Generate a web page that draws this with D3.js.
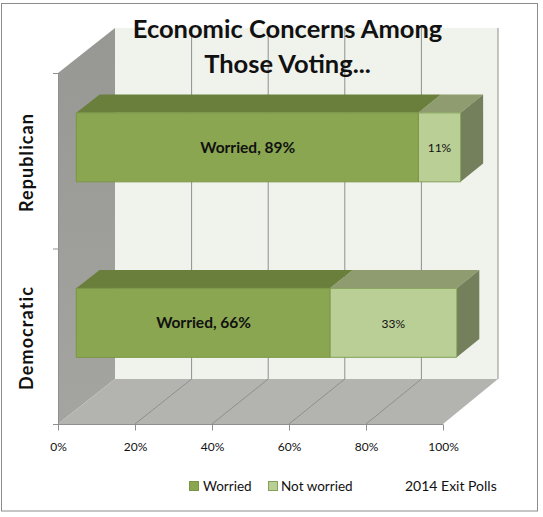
<!DOCTYPE html>
<html><head><meta charset="utf-8">
<script src="https://cdn.jsdelivr.net/npm/d3@7"></script>
<style>html,body{margin:0;padding:0;background:#fff}svg{display:block}text{font-family:Lato,"Open Sans",sans-serif;fill:#111}</style>
</head><body><svg id="c" width="543" height="517"></svg>
<script>
const categories = ["Republican","Democratic"];
const worried = [89,66];
const notWorried = [11,33];
const xTicks = [0,20,40,60,80,100];
const titleLines = ["Economic Concerns Among","Those Voting..."];
const seriesNames = ["Worried","Not worried"];
const sourceNote = "2014 Exit Polls";

const svg = d3.select("#c");
const x = d3.scaleLinear().domain([0,100]).range([58,443]);
const xBack = d3.scaleLinear().domain([0,100]).range([115,498]);
const y = d3.scaleBand().domain(categories).range([73,424]);
const depthY = d3.scaleLinear().domain([0,1]).range([0,-45]);
const P = (v,py,d)=>[x(v)*(1-d)+xBack(v)*d, py+depthY(d)];
const poly = (pts,fill,stroke)=>svg.append("polygon").attr("points",pts.map(p=>p.join(",")).join(" "))
  .attr("fill",fill).attr("stroke",stroke||"none").attr("stroke-width",stroke?1:0);
const top0=y.range()[0], bot=y.range()[1];

// frame
svg.append("rect").attr("x",1.5).attr("y",3.5).attr("width",536).attr("height",507.5)
  .attr("fill","#fff").attr("stroke","#8c8c8c").attr("stroke-width",1);

// walls
const defs=svg.append("defs");
const lg=defs.append("linearGradient").attr("id","wall").attr("x1",0).attr("x2",0).attr("y1",0).attr("y2",1);
lg.append("stop").attr("offset",0).attr("stop-color","#979894");
lg.append("stop").attr("offset",1).attr("stop-color","#a4a5a1");
poly([P(0,top0,0),P(0,top0,1),P(0,bot,1),P(0,bot,0)],"url(#wall)");
poly([P(0,top0,1),P(100,top0,1),P(100,bot,1),P(0,bot,1)],"#f0f3ec");
poly([P(0,bot,0),P(100,bot,0),P(100,bot,1),P(0,bot,1)],"#b3b4b0");

// gridlines
xTicks.forEach(t=>{
  const l=(a,b)=>svg.append("line").attr("x1",a[0]).attr("y1",a[1]).attr("x2",b[0]).attr("y2",b[1]).attr("stroke","#8f8f8f").attr("stroke-width",1);
  if(t>0) l(P(t,top0,1),P(t,bot,1));
  if(t>0&&t<100) l(P(t,bot,1),P(t,bot,0));
});
svg.append("line").attr("x1",x(0)).attr("x2",x(100)).attr("y1",bot+.5).attr("y2",bot+.5).attr("stroke","#8f8f8f");
svg.append("line").attr("x1",x(0)+.5).attr("x2",x(0)+.5).attr("y1",top0).attr("y2",bot).attr("stroke","#8f8f8f");

// axes
const ax=svg.append("g").attr("transform",`translate(0,${bot+.5})`)
  .call(d3.axisBottom(x).tickValues(xTicks).tickFormat(d=>d+"%").tickSize(6).tickPadding(12));
ax.select(".domain").remove();
ax.selectAll("line").attr("stroke","#8f8f8f");
ax.selectAll("text").attr("font-size",12).attr("font-family","Lato").attr("fill","#111");
[y(categories[0]),y(categories[1]),bot].forEach(v=>svg.append("line").attr("x1",x(0)-5).attr("x2",x(0)).attr("y1",v+.5).attr("y2",v+.5).attr("stroke","#8f8f8f"));
categories.forEach(c=>{
  const cy=y(c)+y.bandwidth()/2+1.75;
  svg.append("text").attr("transform",`translate(33,${cy}) rotate(-90)`).attr("text-anchor","middle")
    .attr("font-size",18).attr("letter-spacing",1.1).attr("font-weight",700).text(c);
});

// bars
const d0=0.32, d1=0.73, barH=y.bandwidth()*0.393;
const box=(a,b,c,cols,withSide)=>{
  const t=y(c)+y.bandwidth()/2-barH/2+1, m=t+barH;
  poly([P(a,t,d0),P(a,t,d1),P(b,t,d1),P(b,t,d0)],cols.top);
  if(withSide) poly([P(b,t,d0),P(b,t,d1),P(b,m,d1),P(b,m,d0)],cols.side);
  poly([P(a,t,d0),P(b,t,d0),P(b,m,d0),P(a,m,d0)],cols.front,cols.edge);
  return [(P(a,t,d0)[0]+P(b,t,d0)[0])/2,(t+m)/2+depthY(d0)];
};
const cW={front:"#8aa650",top:"#6a7f3c",side:"#62763a",edge:"#7b9545"};
const cN={front:"#b9cf96",top:"#8e9c70",side:"#747f5b",edge:"#84a05a"};
categories.forEach((c,i)=>{
  const s=box(worried[i],worried[i]+notWorried[i],c,cN,true);
  const w=box(0,worried[i],c,cW,false);
  svg.append("text").attr("x",w[0]+.5).attr("y",w[1]+5.5).attr("text-anchor","middle").attr("font-size",15.5).attr("font-weight",700).text(`${seriesNames[0]}, ${worried[i]}%`);
  svg.append("text").attr("x",s[0]).attr("y",s[1]+5).attr("text-anchor","middle").attr("font-size",12).text(`${notWorried[i]}%`);
});

// title
titleLines.forEach((t,i)=>svg.append("text").attr("x",287.5).attr("y",38+i*35).attr("text-anchor","middle")
  .attr("font-size",25.5).attr("font-weight",700).attr("fill","#000").text(t));

// legend
[[189,cW.front,cW.edge,203],[268,cN.front,cN.edge,281]].forEach((l,i)=>{
  svg.append("rect").attr("x",l[0]+.5).attr("y",481.5).attr("width",9).attr("height",9).attr("fill",l[1]).attr("stroke",l[2]);
  svg.append("text").attr("x",l[3]).attr("y",491).attr("font-size",13.5).text(seriesNames[i]);
});
svg.append("text").attr("x",405).attr("y",491).attr("font-size",14).text(sourceNote);
</script></body></html>
